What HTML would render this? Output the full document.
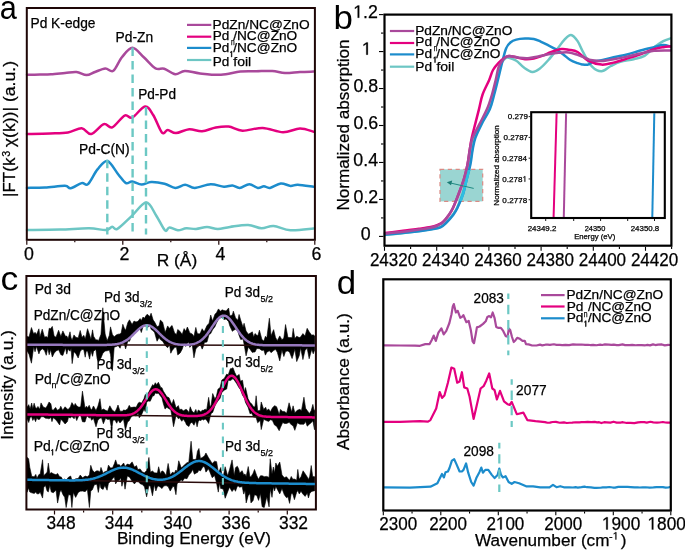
<!DOCTYPE html>
<html><head><meta charset="utf-8"><style>
html,body{margin:0;padding:0;background:#fff;}
svg{display:block;will-change:transform;}
text{font-family:"Liberation Sans", sans-serif;stroke:#000;stroke-width:0.25px;}
</style></head><body>
<svg width="685" height="551" viewBox="0 0 685 551">
<rect x="0" y="0" width="685" height="551" fill="#fff"/>
<path d="M27.00,230.00 C32.50,229.92 49.67,229.78 60.00,229.50 C70.33,229.22 81.35,228.22 89.00,228.30 C96.65,228.38 102.03,230.25 105.90,230.00 C109.77,229.75 110.28,226.98 112.20,226.80 C114.12,226.62 114.25,230.58 117.40,228.90 C120.55,227.22 126.30,221.08 131.10,216.70 C135.90,212.32 142.00,202.77 146.20,202.60 C150.40,202.43 153.17,211.07 156.30,215.70 C159.43,220.33 162.82,228.45 165.00,230.40 C167.18,232.35 167.25,227.42 169.40,227.40 C171.55,227.38 175.08,230.15 177.90,230.30 C180.72,230.45 183.28,228.52 186.30,228.30 C189.32,228.08 192.55,229.20 196.00,229.00 C199.45,228.80 203.37,227.10 207.00,227.10 C210.63,227.10 213.97,229.03 217.80,229.00 C221.63,228.97 224.95,227.58 230.00,226.90 C235.05,226.22 242.85,224.67 248.10,224.90 C253.35,225.13 257.25,228.13 261.50,228.30 C265.75,228.47 268.77,225.57 273.60,225.90 C278.43,226.23 283.85,229.85 290.50,230.30 C297.15,230.75 309.67,228.88 313.50,228.60" fill="none" stroke="#6dc6c4" stroke-width="2.5" stroke-linejoin="round" stroke-linecap="round"/>
<path d="M27.00,187.90 C30.00,187.83 38.68,187.85 45.00,187.50 C51.32,187.15 60.63,185.67 64.90,185.80 C69.17,185.93 67.80,188.75 70.60,188.30 C73.40,187.85 78.80,183.80 81.70,183.10 C84.60,182.40 85.37,186.38 88.00,184.10 C90.63,181.82 94.27,173.25 97.50,169.40 C100.73,165.55 103.90,160.12 107.40,161.00 C110.90,161.88 115.42,171.02 118.50,174.70 C121.58,178.38 123.62,181.98 125.90,183.10 C128.18,184.22 129.58,181.15 132.20,181.40 C134.82,181.65 138.45,184.50 141.60,184.60 C144.75,184.70 147.28,182.15 151.10,182.00 C154.92,181.85 160.45,182.72 164.50,183.70 C168.55,184.68 171.97,187.73 175.40,187.90 C178.83,188.07 181.87,184.70 185.10,184.70 C188.33,184.70 190.55,187.98 194.80,187.90 C199.05,187.82 205.75,184.40 210.60,184.20 C215.45,184.00 220.27,186.50 223.90,186.70 C227.53,186.90 229.77,185.20 232.40,185.40 C235.03,185.60 236.88,188.10 239.70,187.90 C242.52,187.70 246.28,184.20 249.30,184.20 C252.32,184.20 255.37,187.57 257.80,187.90 C260.23,188.23 261.87,186.20 263.90,186.20 C265.93,186.20 267.18,188.35 270.00,187.90 C272.82,187.45 277.38,183.83 280.80,183.50 C284.22,183.17 287.67,185.70 290.50,185.90 C293.33,186.10 293.97,184.57 297.80,184.70 C301.63,184.83 310.88,186.37 313.50,186.70" fill="none" stroke="#1c8ccc" stroke-width="2.5" stroke-linejoin="round" stroke-linecap="round"/>
<path d="M27.00,134.00 C30.83,133.92 43.17,133.75 50.00,133.50 C56.83,133.25 62.72,133.37 68.00,132.50 C73.28,131.63 77.83,128.05 81.70,128.30 C85.57,128.55 87.52,134.70 91.20,134.00 C94.88,133.30 100.30,125.22 103.80,124.10 C107.30,122.98 108.73,128.72 112.20,127.30 C115.67,125.88 121.27,117.22 124.60,115.60 C127.93,113.98 128.80,119.10 132.20,117.60 C135.60,116.10 141.50,107.03 145.00,106.60 C148.50,106.17 150.37,110.67 153.20,115.00 C156.03,119.33 159.57,130.10 162.00,132.60 C164.43,135.10 165.47,129.92 167.80,130.00 C170.13,130.08 172.43,133.23 176.00,133.10 C179.57,132.97 184.87,129.50 189.20,129.20 C193.53,128.90 197.57,131.58 202.00,131.30 C206.43,131.02 211.37,128.28 215.80,127.50 C220.23,126.72 224.15,126.07 228.60,126.60 C233.05,127.13 236.82,130.48 242.50,130.70 C248.18,130.92 255.95,127.65 262.70,127.90 C269.45,128.15 276.78,132.10 283.00,132.20 C289.22,132.30 294.92,128.58 300.00,128.50 C305.08,128.42 311.25,131.17 313.50,131.70" fill="none" stroke="#e4007f" stroke-width="2.5" stroke-linejoin="round" stroke-linecap="round"/>
<path d="M27.00,74.70 C29.17,74.68 36.00,74.67 40.00,74.60 C44.00,74.53 46.83,74.57 51.00,74.30 C55.17,74.03 60.75,73.38 65.00,73.00 C69.25,72.62 72.92,71.65 76.50,72.00 C80.08,72.35 83.42,75.10 86.50,75.10 C89.58,75.10 91.87,73.10 95.00,72.00 C98.13,70.90 102.25,68.70 105.30,68.50 C108.35,68.30 110.53,72.67 113.30,70.80 C116.07,68.93 118.72,61.13 121.90,57.30 C125.08,53.47 128.75,47.80 132.40,47.80 C136.05,47.80 139.95,53.88 143.80,57.30 C147.65,60.72 152.10,66.40 155.50,68.30 C158.90,70.20 160.90,67.70 164.20,68.70 C167.50,69.70 171.87,73.93 175.30,74.30 C178.73,74.67 180.68,71.05 184.80,70.90 C188.92,70.75 193.97,72.75 200.00,73.40 C206.03,74.05 214.28,75.10 221.00,74.80 C227.72,74.50 234.47,72.18 240.30,71.60 C246.13,71.02 250.67,71.40 256.00,71.30 C261.33,71.20 267.47,70.70 272.30,71.00 C277.13,71.30 280.38,72.93 285.00,73.10 C289.62,73.27 295.25,72.25 300.00,72.00 C304.75,71.75 311.25,71.67 313.50,71.60" fill="none" stroke="#a9499b" stroke-width="2.5" stroke-linejoin="round" stroke-linecap="round"/>
<line x1="107.30" y1="159.80" x2="107.30" y2="234.50" stroke="#6cc8c4" stroke-width="2.4" stroke-dasharray="8.5 5"/>
<line x1="132.60" y1="47.60" x2="132.60" y2="234.50" stroke="#6cc8c4" stroke-width="2.4" stroke-dasharray="8.5 5"/>
<line x1="146.00" y1="107.00" x2="146.00" y2="234.50" stroke="#6cc8c4" stroke-width="2.4" stroke-dasharray="8.5 5"/>
<rect x="26.80" y="8.00" width="288.10" height="231.80" fill="none" stroke="#1e0606" stroke-width="2"/>
<line x1="26.80" y1="240.80" x2="26.80" y2="244.80" stroke="#1e0606" stroke-width="1.2"/>
<line x1="122.80" y1="240.80" x2="122.80" y2="244.80" stroke="#1e0606" stroke-width="1.2"/>
<line x1="218.80" y1="240.80" x2="218.80" y2="244.80" stroke="#1e0606" stroke-width="1.2"/>
<line x1="314.80" y1="240.80" x2="314.80" y2="244.80" stroke="#1e0606" stroke-width="1.2"/>
<line x1="74.80" y1="240.80" x2="74.80" y2="242.30" stroke="#1e0606" stroke-width="1.2"/>
<line x1="170.80" y1="240.80" x2="170.80" y2="242.30" stroke="#1e0606" stroke-width="1.2"/>
<line x1="266.80" y1="240.80" x2="266.80" y2="242.30" stroke="#1e0606" stroke-width="1.2"/>
<line x1="187.00" y1="24.90" x2="211.30" y2="24.90" stroke="#a9499b" stroke-width="2.2"/>
<line x1="187.00" y1="36.70" x2="211.30" y2="36.70" stroke="#e4007f" stroke-width="2.2"/>
<line x1="187.00" y1="47.90" x2="211.30" y2="47.90" stroke="#1c8ccc" stroke-width="2.2"/>
<line x1="187.00" y1="60.00" x2="211.30" y2="60.00" stroke="#6dc6c4" stroke-width="2.2"/>
<text x="212.58" y="28.80" font-size="13.6" fill="#000" textLength="96.99" lengthAdjust="spacingAndGlyphs">PdZn/NC@ZnO</text>
<text x="212.69" y="40.20" font-size="13.6" fill="#000" textLength="16.57" lengthAdjust="spacingAndGlyphs">Pd</text>
<text x="231.07" y="45.00" font-size="8.5" fill="#000" textLength="3.66" lengthAdjust="spacingAndGlyphs" stroke="#000" stroke-width="0.3">n</text>
<text x="233.20" y="40.20" font-size="13.6" fill="#000" textLength="64.06" lengthAdjust="spacingAndGlyphs">/NC@ZnO</text>
<text x="212.69" y="51.50" font-size="13.6" fill="#000" textLength="16.57" lengthAdjust="spacingAndGlyphs">Pd</text>
<text x="229.98" y="57.00" font-size="8.5" fill="#000" textLength="3.09" lengthAdjust="spacingAndGlyphs" stroke="#000" stroke-width="0.3"> </text>
<path transform="translate(229.98,57.00) scale(0.00271,-0.00415)" d="M515 0V1237L197 1010V1180L530 1409H696V0Z" fill="#000" stroke="#000" stroke-width="0.6" vector-effect="non-scaling-stroke"/>
<text x="233.20" y="51.50" font-size="13.6" fill="#000" textLength="64.06" lengthAdjust="spacingAndGlyphs">/NC@ZnO</text>
<text x="212.69" y="66.00" font-size="13.6" fill="#000" textLength="16.57" lengthAdjust="spacingAndGlyphs">Pd</text>
<text x="233.30" y="66.00" font-size="13.6" fill="#000" textLength="17.93" lengthAdjust="spacingAndGlyphs">foil</text>
<text x="-0.29" y="18.70" font-size="33.0" fill="#000" textLength="17.10" lengthAdjust="spacingAndGlyphs" style="stroke-width:0">a</text>
<text x="30.47" y="28.40" font-size="14.3" fill="#000" textLength="65.03" lengthAdjust="spacingAndGlyphs">Pd K-edge</text>
<text x="115.57" y="41.80" font-size="14.3" fill="#000" textLength="37.60" lengthAdjust="spacingAndGlyphs">Pd-Zn</text>
<text x="138.18" y="99.00" font-size="14.3" fill="#000" textLength="37.88" lengthAdjust="spacingAndGlyphs">Pd-Pd</text>
<text x="78.96" y="153.60" font-size="14.3" fill="#000" textLength="50.77" lengthAdjust="spacingAndGlyphs">Pd-C(N)</text>
<text x="24.05" y="259.90" font-size="17.8" fill="#000">0</text>
<text x="119.45" y="259.90" font-size="17.8" fill="#000">2</text>
<text x="215.50" y="259.90" font-size="17.8" fill="#000">4</text>
<text x="311.50" y="259.90" font-size="17.8" fill="#000">6</text>
<text x="156.67" y="266.30" font-size="17.2" fill="#000" textLength="40.59" lengthAdjust="spacingAndGlyphs">R (Å)</text>
<text transform="translate(15.20,196.93) rotate(-90)" x="0" y="0" font-size="17" fill="#000">|FT(k</text>
<text transform="translate(10.00,156.70) rotate(-90)" x="0" y="0" font-size="11" fill="#000" textLength="5.87" lengthAdjust="spacingAndGlyphs">3</text>
<text transform="translate(15.20,147.18) rotate(-90)" x="0" y="0" font-size="17" fill="#000" textLength="86.26" lengthAdjust="spacingAndGlyphs">χ(k))| (a.u.)</text>
<rect x="440" y="169.3" width="42.7" height="32.1" fill="#9ad5d2" stroke="#d98a84" stroke-width="1.2" stroke-dasharray="4.2 3.6"/>
<path d="M385.00,235.00 C388.73,234.57 399.78,233.37 407.40,232.40 C415.02,231.43 425.18,230.12 430.70,229.20 C436.22,228.28 437.87,228.07 440.50,226.90 C443.13,225.73 444.50,224.18 446.50,222.20 C448.50,220.22 450.75,217.37 452.50,215.00 C454.25,212.63 455.32,211.58 457.00,208.00 C458.68,204.42 461.08,198.33 462.60,193.50 C464.12,188.67 464.90,183.83 466.10,179.00 C467.30,174.17 468.82,169.33 469.80,164.50 C470.78,159.67 471.33,154.40 472.00,150.00 C472.67,145.60 472.30,142.50 473.80,138.10 C475.30,133.70 478.53,128.43 481.00,123.60 C483.47,118.77 486.57,113.95 488.60,109.10 C490.63,104.25 491.83,99.35 493.20,94.50 C494.57,89.65 495.50,85.02 496.80,80.00 C498.10,74.98 499.58,68.02 501.00,64.40 C502.42,60.78 503.97,59.40 505.30,58.30 C506.63,57.20 507.17,57.38 509.00,57.80 C510.83,58.22 513.87,59.22 516.30,60.80 C518.73,62.38 520.93,65.43 523.60,67.30 C526.27,69.17 529.63,71.75 532.30,72.00 C534.97,72.25 536.92,70.80 539.60,68.80 C542.28,66.80 545.47,63.28 548.40,60.00 C551.33,56.72 554.52,52.50 557.20,49.10 C559.88,45.70 562.20,41.97 564.50,39.60 C566.80,37.23 568.82,34.65 571.00,34.90 C573.18,35.15 575.53,38.13 577.60,41.10 C579.67,44.07 580.98,48.45 583.40,52.70 C585.82,56.95 589.08,63.50 592.10,66.60 C595.12,69.70 598.37,71.40 601.50,71.30 C604.63,71.20 607.77,67.57 610.90,66.00 C614.03,64.43 616.50,63.03 620.30,61.90 C624.10,60.77 629.67,60.20 633.70,59.20 C637.73,58.20 640.92,58.02 644.50,55.90 C648.08,53.78 652.07,48.97 655.20,46.50 C658.33,44.03 660.75,42.45 663.30,41.10 C665.85,39.75 669.30,38.85 670.50,38.40" fill="none" stroke="#6dc6c4" stroke-width="2.5" stroke-linejoin="round" stroke-linecap="round"/>
<path d="M385.00,234.80 C388.73,234.43 399.78,233.50 407.40,232.60 C415.02,231.70 425.18,230.28 430.70,229.40 C436.22,228.52 437.87,228.45 440.50,227.30 C443.13,226.15 444.42,224.52 446.50,222.50 C448.58,220.48 451.18,217.62 453.00,215.20 C454.82,212.78 455.70,211.62 457.40,208.00 C459.10,204.38 461.63,198.33 463.20,193.50 C464.77,188.67 465.60,183.83 466.80,179.00 C468.00,174.17 469.43,169.33 470.40,164.50 C471.37,159.67 471.78,154.40 472.60,150.00 C473.42,145.60 473.75,142.50 475.30,138.10 C476.85,133.70 479.47,128.43 481.90,123.60 C484.33,118.77 487.85,113.95 489.90,109.10 C491.95,104.25 492.87,99.35 494.20,94.50 C495.53,89.65 496.53,85.50 497.90,80.00 C499.27,74.50 501.03,66.77 502.40,61.50 C503.77,56.23 504.77,51.57 506.10,48.40 C507.43,45.23 508.70,43.97 510.40,42.50 C512.10,41.03 513.87,40.25 516.30,39.60 C518.73,38.95 522.08,38.72 525.00,38.60 C527.92,38.48 531.12,38.37 533.80,38.90 C536.48,39.43 538.67,40.72 541.10,41.80 C543.53,42.88 545.97,44.18 548.40,45.40 C550.83,46.62 553.27,47.63 555.70,49.10 C558.13,50.57 560.57,52.38 563.00,54.20 C565.43,56.02 567.87,58.50 570.30,60.00 C572.73,61.50 575.65,62.47 577.60,63.20 C579.55,63.93 580.25,64.17 582.00,64.40 C583.75,64.63 586.20,65.12 588.10,64.60 C590.00,64.08 591.40,61.97 593.40,61.30 C595.40,60.63 596.73,61.28 600.10,60.60 C603.47,59.92 609.12,58.22 613.60,57.20 C618.08,56.18 622.53,55.62 627.00,54.50 C631.47,53.38 635.92,51.72 640.40,50.50 C644.88,49.28 650.08,48.10 653.90,47.20 C657.72,46.30 660.53,45.22 663.30,45.10 C666.07,44.98 669.30,46.27 670.50,46.50" fill="none" stroke="#1c8ccc" stroke-width="2.5" stroke-linejoin="round" stroke-linecap="round"/>
<path d="M385.00,233.00 C386.78,232.80 391.97,232.25 395.70,231.80 C399.43,231.35 403.52,230.80 407.40,230.30 C411.28,229.80 415.12,229.35 419.00,228.80 C422.88,228.25 427.58,227.67 430.70,227.00 C433.82,226.33 435.67,225.63 437.70,224.80 C439.73,223.97 441.07,223.60 442.90,222.00 C444.73,220.40 447.02,217.53 448.70,215.20 C450.38,212.87 451.32,211.62 453.00,208.00 C454.68,204.38 456.98,198.33 458.80,193.50 C460.62,188.67 462.45,183.83 463.90,179.00 C465.35,174.17 466.53,169.33 467.50,164.50 C468.47,159.67 469.00,154.40 469.70,150.00 C470.40,145.60 470.77,142.50 471.70,138.10 C472.63,133.70 474.08,128.43 475.30,123.60 C476.52,118.77 477.78,113.95 479.00,109.10 C480.22,104.25 480.90,99.35 482.60,94.50 C484.30,89.65 487.47,84.08 489.20,80.00 C490.93,75.92 491.40,72.88 493.00,70.00 C494.60,67.12 496.87,64.73 498.80,62.70 C500.73,60.67 502.90,58.92 504.60,57.80 C506.30,56.68 507.05,56.07 509.00,56.00 C510.95,55.93 513.63,56.85 516.30,57.40 C518.97,57.95 522.08,59.10 525.00,59.30 C527.92,59.50 530.87,59.20 533.80,58.60 C536.73,58.00 539.68,56.80 542.60,55.70 C545.52,54.60 548.15,53.10 551.30,52.00 C554.45,50.90 558.58,49.47 561.50,49.10 C564.42,48.73 566.12,49.32 568.80,49.80 C571.48,50.28 574.38,50.20 577.60,52.00 C580.82,53.80 584.12,58.50 588.10,60.60 C592.08,62.70 597.25,64.27 601.50,64.60 C605.75,64.93 609.35,63.60 613.60,62.60 C617.85,61.60 622.53,59.98 627.00,58.60 C631.47,57.22 635.92,55.87 640.40,54.30 C644.88,52.73 650.08,50.38 653.90,49.20 C657.72,48.02 660.53,47.65 663.30,47.20 C666.07,46.75 669.30,46.62 670.50,46.50" fill="none" stroke="#e4007f" stroke-width="2.5" stroke-linejoin="round" stroke-linecap="round"/>
<path d="M385.00,233.60 C386.78,233.43 391.97,233.00 395.70,232.60 C399.43,232.20 403.52,231.70 407.40,231.20 C411.28,230.70 415.12,230.17 419.00,229.60 C422.88,229.03 427.58,228.48 430.70,227.80 C433.82,227.12 435.67,226.40 437.70,225.50 C439.73,224.60 441.07,224.15 442.90,222.40 C444.73,220.65 447.02,217.43 448.70,215.00 C450.38,212.57 451.32,211.40 453.00,207.80 C454.68,204.20 456.98,198.20 458.80,193.40 C460.62,188.60 462.45,183.82 463.90,179.00 C465.35,174.18 466.53,169.33 467.50,164.50 C468.47,159.67 468.88,154.40 469.70,150.00 C470.52,145.60 470.73,142.50 472.40,138.10 C474.07,133.70 477.27,128.43 479.70,123.60 C482.13,118.77 484.95,113.95 487.00,109.10 C489.05,104.25 490.55,99.35 492.00,94.50 C493.45,89.65 494.62,84.50 495.70,80.00 C496.78,75.50 497.50,70.58 498.50,67.50 C499.50,64.42 500.43,63.28 501.70,61.50 C502.97,59.72 504.77,57.72 506.10,56.80 C507.43,55.88 507.52,55.83 509.70,56.00 C511.88,56.17 516.15,57.42 519.20,57.80 C522.25,58.18 524.83,58.53 528.00,58.30 C531.17,58.07 534.80,57.08 538.20,56.40 C541.60,55.72 545.00,54.82 548.40,54.20 C551.80,53.58 555.20,53.00 558.60,52.70 C562.00,52.40 565.63,52.03 568.80,52.40 C571.97,52.77 574.67,53.92 577.60,54.90 C580.53,55.88 584.22,57.47 586.40,58.30 C588.58,59.13 588.18,59.45 590.70,59.90 C593.22,60.35 597.68,61.12 601.50,61.00 C605.32,60.88 609.35,59.93 613.60,59.20 C617.85,58.47 622.53,57.55 627.00,56.60 C631.47,55.65 635.92,54.47 640.40,53.50 C644.88,52.53 648.88,51.30 653.90,50.80 C658.92,50.30 667.73,50.55 670.50,50.50" fill="none" stroke="#a9499b" stroke-width="2.5" stroke-linejoin="round" stroke-linecap="round"/>
<clipPath id="rc"><rect x="441" y="170" width="41" height="31"/></clipPath>
<path d="M385.00,234.80 C388.73,234.43 399.78,233.50 407.40,232.60 C415.02,231.70 425.18,230.28 430.70,229.40 C436.22,228.52 437.87,228.45 440.50,227.30 C443.13,226.15 444.42,224.52 446.50,222.50 C448.58,220.48 451.18,217.62 453.00,215.20 C454.82,212.78 455.70,211.62 457.40,208.00 C459.10,204.38 461.63,198.33 463.20,193.50 C464.77,188.67 465.60,183.83 466.80,179.00 C468.00,174.17 469.43,169.33 470.40,164.50 C471.37,159.67 471.78,154.40 472.60,150.00 C473.42,145.60 473.75,142.50 475.30,138.10 C476.85,133.70 479.47,128.43 481.90,123.60 C484.33,118.77 487.85,113.95 489.90,109.10 C491.95,104.25 492.87,99.35 494.20,94.50 C495.53,89.65 496.53,85.50 497.90,80.00 C499.27,74.50 501.03,66.77 502.40,61.50 C503.77,56.23 504.77,51.57 506.10,48.40 C507.43,45.23 508.70,43.97 510.40,42.50 C512.10,41.03 513.87,40.25 516.30,39.60 C518.73,38.95 522.08,38.72 525.00,38.60 C527.92,38.48 531.12,38.37 533.80,38.90 C536.48,39.43 538.67,40.72 541.10,41.80 C543.53,42.88 545.97,44.18 548.40,45.40 C550.83,46.62 553.27,47.63 555.70,49.10 C558.13,50.57 560.57,52.38 563.00,54.20 C565.43,56.02 567.87,58.50 570.30,60.00 C572.73,61.50 575.65,62.47 577.60,63.20 C579.55,63.93 580.25,64.17 582.00,64.40 C583.75,64.63 586.20,65.12 588.10,64.60 C590.00,64.08 591.40,61.97 593.40,61.30 C595.40,60.63 596.73,61.28 600.10,60.60 C603.47,59.92 609.12,58.22 613.60,57.20 C618.08,56.18 622.53,55.62 627.00,54.50 C631.47,53.38 635.92,51.72 640.40,50.50 C644.88,49.28 650.08,48.10 653.90,47.20 C657.72,46.30 660.53,45.22 663.30,45.10 C666.07,44.98 669.30,46.27 670.50,46.50" fill="none" stroke="#2cbfe2" stroke-width="2.5" stroke-linejoin="round" stroke-linecap="round" clip-path="url(#rc)"/>
<line x1="473.70" y1="188.40" x2="450.50" y2="183.00" stroke="#1f8a82" stroke-width="1.0"/>
<path d="M446.8,182.2 L452.2,180.6 L451.0,185.2 Z" fill="#1a7d76"/>
<rect x="384.50" y="14.60" width="286.90" height="231.10" fill="none" stroke="#000" stroke-width="2.2"/>
<line x1="379.00" y1="236.40" x2="383.50" y2="236.40" stroke="#000" stroke-width="1.1"/>
<line x1="381.00" y1="217.92" x2="383.50" y2="217.92" stroke="#000" stroke-width="1.1"/>
<line x1="379.00" y1="199.43" x2="383.50" y2="199.43" stroke="#000" stroke-width="1.1"/>
<line x1="381.00" y1="180.95" x2="383.50" y2="180.95" stroke="#000" stroke-width="1.1"/>
<line x1="379.00" y1="162.47" x2="383.50" y2="162.47" stroke="#000" stroke-width="1.1"/>
<line x1="381.00" y1="143.99" x2="383.50" y2="143.99" stroke="#000" stroke-width="1.1"/>
<line x1="379.00" y1="125.50" x2="383.50" y2="125.50" stroke="#000" stroke-width="1.1"/>
<line x1="381.00" y1="107.02" x2="383.50" y2="107.02" stroke="#000" stroke-width="1.1"/>
<line x1="379.00" y1="88.54" x2="383.50" y2="88.54" stroke="#000" stroke-width="1.1"/>
<line x1="381.00" y1="70.05" x2="383.50" y2="70.05" stroke="#000" stroke-width="1.1"/>
<line x1="379.00" y1="51.57" x2="383.50" y2="51.57" stroke="#000" stroke-width="1.1"/>
<line x1="381.00" y1="33.09" x2="383.50" y2="33.09" stroke="#000" stroke-width="1.1"/>
<line x1="379.00" y1="14.60" x2="383.50" y2="14.60" stroke="#000" stroke-width="1.1"/>
<line x1="384.50" y1="246.80" x2="384.50" y2="250.80" stroke="#000" stroke-width="1.1"/>
<line x1="410.60" y1="246.80" x2="410.60" y2="249.00" stroke="#000" stroke-width="1.1"/>
<line x1="436.70" y1="246.80" x2="436.70" y2="250.80" stroke="#000" stroke-width="1.1"/>
<line x1="462.80" y1="246.80" x2="462.80" y2="249.00" stroke="#000" stroke-width="1.1"/>
<line x1="488.90" y1="246.80" x2="488.90" y2="250.80" stroke="#000" stroke-width="1.1"/>
<line x1="515.00" y1="246.80" x2="515.00" y2="249.00" stroke="#000" stroke-width="1.1"/>
<line x1="541.10" y1="246.80" x2="541.10" y2="250.80" stroke="#000" stroke-width="1.1"/>
<line x1="567.20" y1="246.80" x2="567.20" y2="249.00" stroke="#000" stroke-width="1.1"/>
<line x1="593.30" y1="246.80" x2="593.30" y2="250.80" stroke="#000" stroke-width="1.1"/>
<line x1="619.40" y1="246.80" x2="619.40" y2="249.00" stroke="#000" stroke-width="1.1"/>
<line x1="645.50" y1="246.80" x2="645.50" y2="250.80" stroke="#000" stroke-width="1.1"/>
<line x1="671.60" y1="246.80" x2="671.60" y2="249.00" stroke="#000" stroke-width="1.1"/>
<text x="360.85" y="239.50" font-size="17.8" fill="#000">0</text>
<text x="353.54" y="202.53" font-size="17.8" fill="#000">0.2</text>
<text x="353.34" y="165.57" font-size="17.8" fill="#000">0.4</text>
<text x="353.48" y="128.60" font-size="17.8" fill="#000">0.6</text>
<text x="353.48" y="91.64" font-size="17.8" fill="#000">0.8</text>
<text x="361.80" y="54.67" font-size="17.8" fill="#000"> </text>
<path transform="translate(361.80,54.67) scale(0.00869,-0.00869)" d="M515 0V1237L197 1010V1180L530 1409H696V0Z" fill="#000" stroke="#000" stroke-width="0.25" vector-effect="non-scaling-stroke"/>
<text x="353.20" y="17.70" font-size="17.8" fill="#000"> .2</text>
<path transform="translate(353.20,17.70) scale(0.00869,-0.00869)" d="M515 0V1237L197 1010V1180L530 1409H696V0Z" fill="#000" stroke="#000" stroke-width="0.25" vector-effect="non-scaling-stroke"/>
<text x="369.90" y="266.00" font-size="17.8" fill="#000" textLength="47.41" lengthAdjust="spacingAndGlyphs">24320</text>
<text x="422.10" y="266.00" font-size="17.8" fill="#000" textLength="47.41" lengthAdjust="spacingAndGlyphs">24340</text>
<text x="474.30" y="266.00" font-size="17.8" fill="#000" textLength="47.41" lengthAdjust="spacingAndGlyphs">24360</text>
<text x="526.50" y="266.00" font-size="17.8" fill="#000" textLength="47.41" lengthAdjust="spacingAndGlyphs">24380</text>
<text x="578.70" y="266.00" font-size="17.8" fill="#000" textLength="47.41" lengthAdjust="spacingAndGlyphs">24400</text>
<text x="630.90" y="266.00" font-size="17.8" fill="#000" textLength="47.41" lengthAdjust="spacingAndGlyphs">24420</text>
<text x="333.57" y="28.50" font-size="34.0" fill="#000" textLength="19.40" lengthAdjust="spacingAndGlyphs" style="stroke-width:0">b</text>
<text transform="translate(349.00,210.50) rotate(-90)" x="0" y="0" font-size="17.2" fill="#000" textLength="171.11" lengthAdjust="spacingAndGlyphs">Normalized absorption</text>
<line x1="389.90" y1="31.00" x2="414.20" y2="31.00" stroke="#a9499b" stroke-width="2.2"/>
<line x1="389.90" y1="43.00" x2="414.20" y2="43.00" stroke="#e4007f" stroke-width="2.2"/>
<line x1="389.90" y1="54.40" x2="414.20" y2="54.40" stroke="#1c8ccc" stroke-width="2.2"/>
<line x1="389.90" y1="66.70" x2="414.20" y2="66.70" stroke="#6dc6c4" stroke-width="2.2"/>
<text x="415.17" y="34.50" font-size="13.6" fill="#000" textLength="97.19" lengthAdjust="spacingAndGlyphs">PdZn/NC@ZnO</text>
<text x="415.37" y="45.90" font-size="13.6" fill="#000" textLength="16.79" lengthAdjust="spacingAndGlyphs">Pd</text>
<text x="433.87" y="50.90" font-size="8.5" fill="#000" textLength="3.66" lengthAdjust="spacingAndGlyphs" stroke="#000" stroke-width="0.3">n</text>
<text x="436.30" y="45.90" font-size="13.6" fill="#000" textLength="64.06" lengthAdjust="spacingAndGlyphs">/NC@ZnO</text>
<text x="415.37" y="57.70" font-size="13.6" fill="#000" textLength="16.79" lengthAdjust="spacingAndGlyphs">Pd</text>
<text x="433.38" y="62.60" font-size="8.5" fill="#000" textLength="3.09" lengthAdjust="spacingAndGlyphs" stroke="#000" stroke-width="0.3"> </text>
<path transform="translate(433.38,62.60) scale(0.00271,-0.00415)" d="M515 0V1237L197 1010V1180L530 1409H696V0Z" fill="#000" stroke="#000" stroke-width="0.6" vector-effect="non-scaling-stroke"/>
<text x="436.30" y="57.70" font-size="13.6" fill="#000" textLength="64.06" lengthAdjust="spacingAndGlyphs">/NC@ZnO</text>
<text x="415.37" y="71.20" font-size="13.6" fill="#000" textLength="16.79" lengthAdjust="spacingAndGlyphs">Pd</text>
<text x="436.40" y="71.20" font-size="13.6" fill="#000" textLength="17.93" lengthAdjust="spacingAndGlyphs">foil</text>
<rect x="532.3" y="113.3" width="131.4" height="103.6" fill="#fff"/>
<line x1="556.60" y1="113.30" x2="553.60" y2="217.00" stroke="#e4007f" stroke-width="2.0"/>
<line x1="566.10" y1="113.30" x2="563.80" y2="217.00" stroke="#a9499b" stroke-width="2.0"/>
<line x1="654.30" y1="113.30" x2="652.30" y2="217.00" stroke="#1c8ccc" stroke-width="2.0"/>
<rect x="531.20" y="112.20" width="133.60" height="105.80" fill="none" stroke="#000" stroke-width="2.1"/>
<line x1="528.60" y1="116.60" x2="530.20" y2="116.60" stroke="#000" stroke-width="0.9"/>
<text x="507.89" y="119.40" font-size="7.9" fill="#000" textLength="20.09" lengthAdjust="spacingAndGlyphs">0.279</text>
<line x1="528.60" y1="137.38" x2="530.20" y2="137.38" stroke="#000" stroke-width="0.9"/>
<text x="503.49" y="140.18" font-size="7.9" fill="#000" textLength="24.61" lengthAdjust="spacingAndGlyphs">0.2787</text>
<line x1="528.60" y1="158.16" x2="530.20" y2="158.16" stroke="#000" stroke-width="0.9"/>
<text x="502.39" y="160.96" font-size="7.9" fill="#000" textLength="24.64" lengthAdjust="spacingAndGlyphs">0.2784</text>
<line x1="528.60" y1="178.94" x2="530.20" y2="178.94" stroke="#000" stroke-width="0.9"/>
<text x="502.39" y="181.74" font-size="7.9" fill="#000" textLength="24.60" lengthAdjust="spacingAndGlyphs">0.278 </text>
<path transform="translate(522.52,181.74) scale(0.00393,-0.00386)" d="M515 0V1237L197 1010V1180L530 1409H696V0Z" fill="#000" stroke="#000" stroke-width="0.25" vector-effect="non-scaling-stroke"/>
<line x1="528.60" y1="199.72" x2="530.20" y2="199.72" stroke="#000" stroke-width="0.9"/>
<text x="502.39" y="202.52" font-size="7.9" fill="#000" textLength="24.77" lengthAdjust="spacingAndGlyphs">0.2778</text>
<line x1="545.70" y1="219.00" x2="545.70" y2="221.00" stroke="#000" stroke-width="0.9"/>
<line x1="573.70" y1="219.00" x2="573.70" y2="221.00" stroke="#000" stroke-width="0.9"/>
<line x1="600.60" y1="219.00" x2="600.60" y2="221.00" stroke="#000" stroke-width="0.9"/>
<line x1="627.70" y1="219.00" x2="627.70" y2="221.00" stroke="#000" stroke-width="0.9"/>
<line x1="654.50" y1="219.00" x2="654.50" y2="221.00" stroke="#000" stroke-width="0.9"/>
<text x="527.70" y="231.00" font-size="7.6" fill="#000" textLength="28.60" lengthAdjust="spacingAndGlyphs">24349.2</text>
<text x="584.63" y="231.00" font-size="7.6" fill="#000" textLength="20.66" lengthAdjust="spacingAndGlyphs">24350</text>
<text x="630.71" y="231.00" font-size="7.6" fill="#000" textLength="28.55" lengthAdjust="spacingAndGlyphs">24350.8</text>
<text x="574.17" y="238.60" font-size="7.6" fill="#000" textLength="41.11" lengthAdjust="spacingAndGlyphs">Energy (eV)</text>
<text transform="translate(499.20,205.66) rotate(-90)" x="0" y="0" font-size="7.6" fill="#000" textLength="80.48" lengthAdjust="spacingAndGlyphs">Normalized absorption</text>
<path d="M27.00,336.56 L29.00,337.08 L31.44,327.57 L33.68,334.02 L35.04,332.30 L36.52,334.54 L38.92,328.82 L39.92,336.88 L42.24,329.17 L44.51,337.15 L46.26,336.59 L47.75,337.77 L49.19,328.27 L50.60,328.71 L52.31,326.40 L54.12,336.06 L56.00,337.30 L58.60,330.28 L60.87,336.47 L62.86,330.91 L65.44,336.30 L66.79,336.02 L68.04,338.70 L70.02,331.80 L71.09,338.00 L72.15,339.92 L73.98,334.91 L75.72,337.20 L78.19,337.90 L80.20,330.47 L82.02,337.39 L83.81,335.33 L85.21,339.06 L86.23,334.74 L87.54,328.70 L89.64,334.93 L90.96,339.33 L92.56,329.86 L93.56,336.19 L95.89,339.89 L97.14,339.79 L98.56,340.64 L100.97,334.32 L102.79,307.79 L105.14,333.96 L107.17,340.80 L109.35,335.34 L110.50,326.87 L112.37,334.38 L114.18,336.80 L116.57,334.85 L118.15,334.16 L120.11,334.00 L121.20,332.85 L122.82,324.29 L124.34,328.20 L125.58,330.37 L127.89,322.41 L129.49,319.81 L132.06,324.50 L134.00,321.08 L135.97,321.94 L137.99,321.34 L140.08,318.61 L141.32,320.60 L143.02,317.06 L144.40,318.30 L146.05,315.62 L147.20,314.26 L149.75,316.49 L151.10,313.19 L153.17,320.00 L154.65,322.07 L157.05,326.63 L159.11,325.82 L160.32,320.08 L162.67,322.22 L165.18,332.42 L167.63,325.93 L169.54,328.51 L170.77,326.62 L172.08,325.49 L174.57,332.88 L176.45,334.55 L177.74,329.52 L180.15,331.51 L182.18,334.59 L184.09,328.60 L185.69,331.33 L187.35,327.00 L188.74,330.16 L189.80,332.90 L192.20,333.94 L193.95,336.52 L195.82,327.43 L197.34,333.59 L199.54,333.99 L200.58,332.60 L202.18,328.73 L203.22,330.69 L204.42,331.24 L206.97,325.44 L209.02,323.43 L210.71,315.05 L212.54,321.10 L214.94,314.27 L216.49,312.63 L218.44,308.91 L220.53,311.28 L222.10,309.77 L223.93,310.55 L226.15,310.94 L228.61,308.07 L229.85,315.96 L232.34,314.98 L233.35,311.13 L235.56,317.88 L237.85,320.28 L239.07,314.48 L240.74,320.18 L243.05,327.27 L244.07,323.27 L246.07,331.05 L248.34,334.15 L250.16,333.19 L252.33,331.86 L253.69,337.23 L255.01,333.52 L256.59,335.06 L257.87,335.64 L259.43,330.17 L261.94,339.59 L263.86,341.10 L265.41,336.32 L266.84,337.83 L269.36,318.20 L271.07,335.80 L273.64,329.64 L275.47,337.30 L277.30,340.63 L279.74,335.91 L281.93,339.70 L283.85,338.00 L285.54,324.55 L287.94,337.55 L289.60,337.49 L292.08,337.65 L293.19,328.42 L294.87,338.56 L296.71,336.22 L299.23,337.62 L300.63,336.99 L302.92,333.60 L305.00,335.97 L307.15,328.35 L309.16,331.79 L311.71,335.22 L313.24,334.86 L314.80,336.06 L314.80,349.81 L313.24,353.82 L311.71,349.50 L309.16,358.75 L307.15,348.05 L305.00,350.58 L302.92,359.58 L300.63,347.75 L299.23,355.69 L296.71,361.59 L294.87,349.10 L293.19,354.97 L292.08,358.59 L289.60,352.35 L287.94,350.91 L285.54,351.42 L283.85,356.54 L281.93,349.98 L279.74,360.89 L277.30,352.30 L275.47,349.35 L273.64,350.52 L271.07,352.63 L269.36,350.73 L266.84,352.14 L265.41,355.13 L263.86,350.09 L261.94,350.55 L259.43,348.73 L257.87,348.53 L256.59,348.63 L255.01,352.00 L253.69,352.12 L252.33,352.47 L250.16,349.38 L248.34,346.99 L246.07,355.86 L244.07,344.25 L243.05,338.93 L240.74,339.51 L239.07,335.48 L237.85,330.95 L235.56,329.15 L233.35,330.52 L232.34,331.36 L229.85,326.12 L228.61,321.66 L226.15,318.99 L223.93,319.49 L222.10,317.29 L220.53,317.83 L218.44,319.39 L216.49,323.03 L214.94,326.69 L212.54,329.86 L210.71,333.60 L209.02,334.62 L206.97,342.02 L204.42,342.45 L203.22,346.84 L202.18,349.14 L200.58,344.99 L199.54,345.53 L197.34,347.10 L195.82,348.96 L193.95,357.86 L192.20,344.36 L189.80,347.36 L188.74,342.37 L187.35,343.31 L185.69,346.41 L184.09,343.48 L182.18,349.22 L180.15,352.96 L177.74,354.91 L176.45,346.95 L174.57,347.60 L172.08,350.64 L170.77,353.24 L169.54,344.81 L167.63,347.67 L165.18,345.41 L162.67,341.18 L160.32,339.58 L159.11,337.54 L157.05,341.22 L154.65,332.72 L153.17,330.82 L151.10,329.36 L149.75,325.15 L147.20,328.09 L146.05,326.02 L144.40,325.81 L143.02,326.60 L141.32,332.54 L140.08,328.87 L137.99,330.09 L135.97,331.40 L134.00,332.96 L132.06,334.87 L129.49,341.30 L127.89,340.99 L125.58,348.95 L124.34,343.66 L122.82,343.47 L121.20,344.81 L120.11,348.22 L118.15,345.46 L116.57,346.40 L114.18,347.20 L112.37,370.67 L110.50,354.53 L109.35,350.12 L107.17,350.77 L105.14,351.02 L102.79,353.42 L100.97,357.99 L98.56,362.12 L97.14,358.69 L95.89,349.42 L93.56,351.16 L92.56,356.32 L90.96,350.96 L89.64,359.11 L87.54,351.05 L86.23,351.29 L85.21,357.20 L83.81,349.70 L82.02,349.34 L80.20,351.48 L78.19,358.01 L75.72,353.39 L73.98,351.70 L72.15,363.62 L71.09,348.38 L70.02,351.26 L68.04,349.26 L66.79,354.16 L65.44,347.70 L62.86,355.38 L60.87,354.71 L58.60,349.82 L56.00,350.91 L54.12,353.35 L52.31,357.03 L50.60,349.62 L49.19,354.73 L47.75,348.04 L46.26,355.30 L44.51,350.61 L42.24,348.71 L39.92,351.00 L38.92,353.88 L36.52,346.47 L35.04,351.81 L33.68,346.84 L31.44,363.20 L29.00,354.20 L27.00,350.76 Z" fill="#000" stroke="#000" stroke-width="0.6" stroke-linejoin="miter"/>
<path d="M27.00,407.09 L28.72,404.64 L30.18,408.79 L31.67,403.00 L32.79,408.66 L34.14,403.18 L35.57,407.97 L36.85,408.14 L37.95,406.42 L39.70,409.32 L41.04,402.91 L43.22,406.89 L45.70,408.03 L47.14,406.01 L49.05,401.97 L50.86,403.79 L51.98,409.63 L53.18,410.21 L55.60,407.39 L57.36,410.29 L59.64,408.98 L60.75,406.21 L62.70,410.33 L65.09,406.80 L67.47,409.20 L68.48,409.24 L70.32,406.88 L71.91,402.61 L74.12,406.11 L75.24,403.44 L76.66,405.80 L78.97,407.33 L80.72,406.60 L82.44,391.15 L84.99,407.95 L86.50,406.17 L87.57,407.88 L89.20,405.32 L90.44,408.43 L91.57,410.01 L93.48,405.96 L96.01,410.60 L97.94,406.12 L99.97,398.70 L101.49,410.15 L103.40,409.00 L105.61,410.33 L107.55,411.17 L109.83,405.80 L111.71,409.18 L113.03,410.74 L114.96,412.10 L116.75,408.35 L118.01,405.01 L120.00,411.14 L122.31,411.21 L123.53,410.08 L125.40,410.33 L127.57,408.90 L129.22,405.33 L130.65,407.50 L132.25,407.36 L134.11,407.07 L136.21,407.28 L138.11,403.22 L139.28,402.28 L141.59,403.10 L144.06,398.55 L145.23,394.50 L146.63,395.02 L147.90,393.82 L150.26,389.15 L152.72,384.61 L153.79,385.80 L155.32,382.72 L156.63,384.64 L158.38,382.24 L160.86,387.71 L161.97,387.70 L163.24,390.99 L165.02,393.75 L166.86,396.78 L169.05,397.78 L170.75,401.97 L171.98,404.22 L173.54,399.48 L176.12,407.95 L178.32,405.60 L179.50,409.43 L181.80,409.25 L183.29,410.90 L185.54,409.54 L186.56,409.43 L188.96,412.45 L190.22,406.77 L191.95,411.11 L194.01,412.94 L195.82,409.44 L197.08,413.16 L198.31,409.99 L199.76,410.96 L200.84,412.00 L202.19,410.19 L203.40,410.37 L205.14,409.18 L206.71,409.74 L208.65,397.36 L210.10,407.04 L211.16,404.92 L212.69,393.54 L214.89,398.92 L216.30,396.58 L217.95,389.18 L220.16,387.39 L221.81,380.11 L224.23,378.49 L226.70,374.05 L228.19,374.88 L230.37,368.73 L231.78,368.48 L233.00,367.72 L234.70,372.34 L236.66,376.35 L239.16,374.38 L240.40,381.19 L242.53,380.31 L244.30,391.95 L245.51,387.58 L248.06,398.68 L250.18,402.74 L251.38,403.56 L253.83,407.12 L255.00,406.64 L256.14,395.77 L257.67,410.87 L260.18,410.48 L261.23,401.96 L263.70,409.39 L265.68,407.23 L266.78,410.47 L268.69,409.07 L270.43,411.69 L272.33,408.02 L274.51,405.65 L276.59,406.75 L279.19,414.44 L280.44,409.39 L282.74,411.44 L284.40,411.39 L286.65,413.14 L289.08,402.81 L291.67,411.99 L293.09,405.83 L294.82,412.70 L297.33,410.33 L299.84,409.35 L301.44,410.77 L303.94,397.19 L305.59,408.24 L307.19,410.47 L309.40,413.53 L311.15,410.85 L312.87,404.41 L314.49,412.40 L314.80,409.75 L314.80,422.39 L314.49,429.74 L312.87,420.84 L311.15,422.81 L309.40,424.15 L307.19,426.20 L305.59,421.60 L303.94,424.18 L301.44,424.24 L299.84,424.18 L297.33,422.84 L294.82,430.37 L293.09,425.79 L291.67,425.08 L289.08,422.36 L286.65,423.49 L284.40,423.53 L282.74,422.42 L280.44,427.52 L279.19,430.69 L276.59,426.35 L274.51,425.00 L272.33,420.29 L270.43,419.82 L268.69,421.41 L266.78,420.82 L265.68,420.33 L263.70,419.24 L261.23,429.57 L260.18,420.38 L257.67,422.83 L256.14,417.62 L255.00,416.99 L253.83,417.31 L251.38,412.85 L250.18,414.06 L248.06,407.30 L245.51,402.52 L244.30,397.92 L242.53,395.15 L240.40,389.50 L239.16,388.01 L236.66,383.62 L234.70,380.73 L233.00,378.60 L231.78,379.57 L230.37,380.62 L228.19,380.21 L226.70,388.97 L224.23,390.19 L221.81,392.54 L220.16,398.14 L217.95,400.96 L216.30,403.37 L214.89,405.99 L212.69,412.38 L211.16,413.46 L210.10,417.10 L208.65,423.46 L206.71,420.23 L205.14,418.99 L203.40,420.08 L202.19,419.24 L200.84,420.64 L199.76,419.91 L198.31,421.40 L197.08,426.83 L195.82,420.82 L194.01,425.24 L191.95,422.14 L190.22,423.48 L188.96,426.55 L186.56,424.90 L185.54,422.50 L183.29,419.08 L181.80,421.28 L179.50,417.75 L178.32,418.72 L176.12,414.96 L173.54,426.66 L171.98,416.33 L170.75,409.75 L169.05,408.84 L166.86,407.31 L165.02,409.09 L163.24,403.23 L161.97,397.90 L160.86,396.55 L158.38,393.16 L156.63,393.52 L155.32,392.91 L153.79,395.95 L152.72,395.75 L150.26,401.19 L147.90,400.96 L146.63,402.61 L145.23,411.58 L144.06,409.05 L141.59,414.63 L139.28,417.79 L138.11,413.32 L136.21,415.93 L134.11,415.36 L132.25,415.97 L130.65,417.77 L129.22,420.73 L127.57,421.94 L125.40,430.22 L123.53,419.20 L122.31,420.16 L120.00,422.94 L118.01,419.96 L116.75,423.25 L114.96,419.94 L113.03,420.22 L111.71,429.52 L109.83,419.26 L107.55,419.41 L105.61,418.28 L103.40,423.81 L101.49,417.85 L99.97,418.28 L97.94,420.01 L96.01,426.81 L93.48,418.34 L91.57,420.22 L90.44,417.17 L89.20,418.11 L87.57,416.23 L86.50,416.94 L84.99,422.00 L82.44,421.74 L80.72,415.39 L78.97,415.38 L76.66,420.57 L75.24,415.82 L74.12,418.80 L71.91,416.60 L70.32,417.93 L68.48,417.19 L67.47,421.53 L65.09,423.99 L62.70,420.91 L60.75,419.27 L59.64,424.94 L57.36,421.76 L55.60,419.62 L53.18,417.63 L51.98,421.64 L50.86,417.40 L49.05,418.87 L47.14,418.37 L45.70,418.34 L43.22,416.69 L41.04,416.80 L39.70,419.28 L37.95,419.42 L36.85,417.77 L35.57,421.66 L34.14,417.96 L32.79,420.45 L31.67,416.85 L30.18,417.14 L28.72,422.51 L27.00,418.84 Z" fill="#000" stroke="#000" stroke-width="0.6" stroke-linejoin="miter"/>
<path d="M27.00,457.43 L28.62,458.66 L29.74,467.25 L31.79,476.38 L34.22,476.79 L35.78,474.40 L36.95,478.27 L38.94,474.53 L40.15,474.30 L42.57,459.70 L43.77,475.82 L45.35,473.99 L47.14,472.27 L48.33,463.15 L49.84,473.75 L51.28,472.61 L53.42,473.79 L56.00,474.75 L57.58,473.39 L59.84,477.00 L61.07,476.87 L63.00,480.13 L64.69,478.97 L66.15,480.36 L68.46,477.22 L70.66,476.02 L71.87,480.06 L73.34,480.58 L75.65,478.82 L78.24,478.43 L80.22,475.07 L82.61,477.71 L85.19,476.05 L87.37,476.78 L89.40,475.05 L90.76,465.33 L92.35,470.08 L94.35,472.35 L96.83,470.83 L98.31,470.90 L99.95,472.01 L100.98,467.45 L103.10,473.14 L104.81,471.79 L107.08,471.10 L108.46,465.14 L110.51,468.09 L112.59,467.73 L114.33,463.81 L115.63,459.90 L117.28,464.64 L119.47,464.73 L120.77,466.62 L121.92,465.03 L123.66,462.99 L125.03,466.57 L127.31,464.04 L129.62,464.81 L132.13,461.89 L134.48,467.08 L136.51,465.61 L137.81,469.59 L140.13,468.92 L142.29,471.97 L144.49,472.76 L146.61,470.52 L148.93,457.46 L150.41,472.14 L152.49,471.06 L154.31,472.70 L155.85,472.89 L157.38,473.06 L158.63,466.76 L160.41,473.73 L162.00,470.87 L163.68,471.80 L166.04,475.50 L168.13,463.46 L170.22,474.89 L172.79,471.93 L174.14,473.44 L175.95,469.98 L177.10,471.90 L178.73,460.77 L181.25,467.80 L182.39,466.89 L184.60,464.84 L186.99,462.68 L188.80,462.16 L191.08,441.22 L192.78,459.49 L194.35,459.57 L196.16,459.20 L197.47,451.17 L198.96,448.51 L200.45,458.52 L203.03,457.00 L204.57,455.69 L205.93,452.97 L208.44,457.60 L209.66,459.40 L212.20,463.47 L214.57,461.19 L216.60,461.64 L218.29,471.94 L219.60,470.15 L220.77,467.47 L221.94,475.62 L223.50,475.16 L225.15,466.74 L227.63,475.82 L229.49,469.81 L232.07,459.91 L234.22,475.61 L235.46,467.72 L237.34,466.23 L238.60,468.67 L239.66,472.94 L242.17,470.66 L243.71,474.74 L245.02,474.05 L246.18,476.59 L248.22,466.55 L249.96,477.04 L250.98,476.64 L253.12,473.27 L254.53,469.48 L256.78,475.74 L258.56,479.35 L260.42,475.85 L262.15,475.72 L264.23,476.63 L266.82,476.40 L269.09,477.48 L270.20,458.80 L272.00,474.02 L273.37,467.01 L274.54,472.92 L275.85,462.99 L277.24,466.25 L279.78,462.09 L281.97,474.89 L284.34,477.75 L286.45,476.75 L287.96,478.59 L289.59,480.35 L291.29,476.45 L292.76,479.13 L294.43,479.09 L296.67,480.16 L297.79,469.44 L299.23,479.24 L301.00,476.70 L303.08,470.82 L305.11,473.71 L307.27,477.09 L308.44,479.53 L309.73,476.27 L311.23,465.52 L312.68,476.57 L314.80,476.81 L314.80,490.67 L312.68,491.14 L311.23,491.67 L309.73,493.62 L308.44,497.97 L307.27,493.04 L305.11,496.39 L303.08,494.27 L301.00,491.28 L299.23,493.98 L297.79,490.57 L296.67,492.24 L294.43,499.67 L292.76,493.85 L291.29,493.41 L289.59,503.38 L287.96,496.82 L286.45,497.66 L284.34,494.80 L281.97,488.59 L279.78,493.95 L277.24,489.16 L275.85,486.46 L274.54,490.91 L273.37,486.70 L272.00,497.35 L270.20,488.80 L269.09,506.91 L266.82,496.68 L264.23,507.50 L262.15,506.69 L260.42,493.61 L258.56,500.38 L256.78,495.49 L254.53,494.68 L253.12,500.53 L250.98,502.90 L249.96,493.57 L248.22,495.63 L246.18,502.94 L245.02,490.20 L243.71,494.10 L242.17,486.57 L239.66,487.19 L238.60,486.15 L237.34,486.15 L235.46,491.30 L234.22,488.84 L232.07,491.52 L229.49,487.16 L227.63,491.90 L225.15,498.25 L223.50,489.77 L221.94,488.48 L220.77,488.64 L219.60,483.05 L218.29,492.10 L216.60,483.13 L214.57,475.53 L212.20,477.71 L209.66,471.44 L208.44,468.84 L205.93,472.14 L204.57,466.94 L203.03,466.60 L200.45,470.92 L198.96,470.11 L197.47,472.52 L196.16,473.00 L194.35,474.13 L192.78,469.42 L191.08,472.55 L188.80,475.11 L186.99,478.71 L184.60,478.16 L182.39,481.24 L181.25,479.64 L178.73,482.24 L177.10,483.68 L175.95,494.70 L174.14,486.42 L172.79,486.59 L170.22,491.06 L168.13,486.59 L166.04,485.59 L163.68,486.09 L162.00,488.61 L160.41,487.16 L158.63,486.11 L157.38,486.64 L155.85,490.98 L154.31,484.43 L152.49,495.77 L150.41,486.31 L148.93,485.52 L146.61,496.85 L144.49,486.85 L142.29,484.49 L140.13,483.68 L137.81,480.71 L136.51,481.15 L134.48,483.96 L132.13,481.16 L129.62,477.22 L127.31,475.96 L125.03,489.18 L123.66,479.14 L121.92,486.26 L120.77,477.68 L119.47,479.98 L117.28,480.97 L115.63,483.92 L114.33,476.68 L112.59,478.78 L110.51,481.57 L108.46,483.22 L107.08,490.23 L104.81,485.54 L103.10,489.41 L100.98,488.14 L99.95,483.44 L98.31,492.43 L96.83,484.32 L94.35,484.73 L92.35,489.75 L90.76,491.08 L89.40,507.50 L87.37,489.24 L85.19,491.65 L82.61,491.05 L80.22,491.13 L78.24,492.44 L75.65,497.38 L73.34,492.50 L71.87,507.50 L70.66,494.99 L68.46,494.81 L66.15,507.50 L64.69,497.24 L63.00,494.78 L61.07,490.05 L59.84,492.13 L57.58,503.06 L56.00,490.01 L53.42,492.74 L51.28,491.97 L49.84,485.27 L48.33,491.88 L47.14,491.09 L45.35,485.23 L43.77,487.41 L42.57,498.05 L40.15,492.09 L38.94,493.73 L36.95,493.86 L35.78,491.96 L34.22,493.44 L31.79,492.85 L29.74,491.94 L28.62,487.92 L27.00,492.30 Z" fill="#000" stroke="#000" stroke-width="0.6" stroke-linejoin="miter"/>
<line x1="27.50" y1="344.80" x2="314.50" y2="345.40" stroke="#2a0c0c" stroke-width="1.5"/>
<line x1="27.50" y1="414.40" x2="314.50" y2="417.41" stroke="#2a0c0c" stroke-width="1.5"/>
<line x1="27.50" y1="479.80" x2="314.50" y2="484.01" stroke="#2a0c0c" stroke-width="1.5"/>
<path d="M27.20,344.80 L28.10,344.80 L29.00,344.80 L29.90,344.81 L30.80,344.81 L31.70,344.81 L32.60,344.81 L33.50,344.81 L34.40,344.82 L35.30,344.82 L36.20,344.82 L37.10,344.82 L38.00,344.82 L38.90,344.82 L39.80,344.83 L40.70,344.83 L41.60,344.83 L42.50,344.83 L43.40,344.83 L44.30,344.84 L45.20,344.84 L46.10,344.84 L47.00,344.84 L47.90,344.84 L48.80,344.85 L49.70,344.85 L50.60,344.85 L51.50,344.85 L52.40,344.85 L53.30,344.85 L54.20,344.86 L55.10,344.86 L56.00,344.86 L56.90,344.86 L57.80,344.86 L58.70,344.87 L59.60,344.87 L60.50,344.87 L61.40,344.87 L62.30,344.87 L63.20,344.88 L64.10,344.88 L65.00,344.88 L65.90,344.88 L66.80,344.88 L67.70,344.89 L68.60,344.89 L69.50,344.89 L70.40,344.89 L71.30,344.89 L72.20,344.89 L73.10,344.90 L74.00,344.90 L74.90,344.90 L75.80,344.90 L76.70,344.90 L77.60,344.91 L78.50,344.91 L79.40,344.91 L80.30,344.91 L81.20,344.91 L82.10,344.92 L83.00,344.92 L83.90,344.92 L84.80,344.92 L85.70,344.92 L86.60,344.92 L87.50,344.93 L88.40,344.93 L89.30,344.93 L90.20,344.93 L91.10,344.93 L92.00,344.94 L92.90,344.94 L93.80,344.94 L94.70,344.94 L95.60,344.94 L96.50,344.94 L97.40,344.94 L98.30,344.94 L99.20,344.94 L100.10,344.94 L101.00,344.94 L101.90,344.94 L102.80,344.93 L103.70,344.93 L104.60,344.92 L105.50,344.91 L106.40,344.89 L107.30,344.87 L108.20,344.85 L109.10,344.82 L110.00,344.78 L110.90,344.74 L111.80,344.68 L112.70,344.61 L113.60,344.53 L114.50,344.43 L115.40,344.31 L116.30,344.17 L117.20,344.01 L118.10,343.82 L119.00,343.60 L119.90,343.34 L120.80,343.05 L121.70,342.72 L122.60,342.35 L123.50,341.93 L124.40,341.47 L125.30,340.96 L126.20,340.40 L127.10,339.79 L128.00,339.14 L128.90,338.43 L129.80,337.68 L130.70,336.90 L131.60,336.07 L132.50,335.22 L133.40,334.34 L134.30,333.45 L135.20,332.56 L136.10,331.67 L137.00,330.79 L137.90,329.94 L138.80,329.13 L139.70,328.36 L140.60,327.66 L141.50,327.03 L142.40,326.47 L143.30,326.00 L144.20,325.63 L145.10,325.37 L146.00,325.20 L146.90,325.15 L147.80,325.21 L148.70,325.37 L149.60,325.65 L150.50,326.02 L151.40,326.49 L152.30,327.05 L153.20,327.69 L154.10,328.39 L155.00,329.16 L155.90,329.98 L156.80,330.83 L157.70,331.71 L158.60,332.61 L159.50,333.51 L160.40,334.40 L161.30,335.28 L162.20,336.14 L163.10,336.96 L164.00,337.76 L164.90,338.51 L165.80,339.21 L166.70,339.87 L167.60,340.49 L168.50,341.05 L169.40,341.56 L170.30,342.03 L171.20,342.45 L172.10,342.83 L173.00,343.16 L173.90,343.45 L174.80,343.71 L175.70,343.93 L176.60,344.12 L177.50,344.29 L178.40,344.42 L179.30,344.54 L180.20,344.63 L181.10,344.71 L182.00,344.77 L182.90,344.81 L183.80,344.83 L184.70,344.84 L185.60,344.84 L186.50,344.82 L187.40,344.79 L188.30,344.73 L189.20,344.66 L190.10,344.57 L191.00,344.45 L191.90,344.31 L192.80,344.14 L193.70,343.93 L194.60,343.68 L195.50,343.40 L196.40,343.06 L197.30,342.67 L198.20,342.23 L199.10,341.72 L200.00,341.15 L200.90,340.52 L201.80,339.81 L202.70,339.02 L203.60,338.16 L204.50,337.23 L205.40,336.22 L206.30,335.14 L207.20,333.99 L208.10,332.78 L209.00,331.52 L209.90,330.22 L210.80,328.89 L211.70,327.53 L212.60,326.18 L213.50,324.84 L214.40,323.52 L215.30,322.26 L216.20,321.06 L217.10,319.94 L218.00,318.91 L218.90,318.01 L219.80,317.23 L220.70,316.59 L221.60,316.11 L222.50,315.78 L223.40,315.63 L224.30,315.64 L225.20,315.82 L226.10,316.16 L227.00,316.67 L227.90,317.33 L228.80,318.12 L229.70,319.05 L230.60,320.08 L231.50,321.22 L232.40,322.43 L233.30,323.71 L234.20,325.03 L235.10,326.38 L236.00,327.74 L236.90,329.09 L237.80,330.42 L238.70,331.73 L239.60,332.98 L240.50,334.19 L241.40,335.33 L242.30,336.41 L243.20,337.41 L244.10,338.35 L245.00,339.20 L245.90,339.98 L246.80,340.69 L247.70,341.32 L248.60,341.89 L249.50,342.39 L250.40,342.83 L251.30,343.22 L252.20,343.55 L253.10,343.84 L254.00,344.09 L254.90,344.30 L255.80,344.48 L256.70,344.63 L257.60,344.76 L258.50,344.86 L259.40,344.95 L260.30,345.02 L261.20,345.08 L262.10,345.12 L263.00,345.16 L263.90,345.19 L264.80,345.22 L265.70,345.24 L266.60,345.25 L267.50,345.27 L268.40,345.28 L269.30,345.29 L270.20,345.29 L271.10,345.30 L272.00,345.30 L272.90,345.31 L273.80,345.31 L274.70,345.31 L275.60,345.32 L276.50,345.32 L277.40,345.32 L278.30,345.32 L279.20,345.33 L280.10,345.33 L281.00,345.33 L281.90,345.33 L282.80,345.33 L283.70,345.34 L284.60,345.34 L285.50,345.34 L286.40,345.34 L287.30,345.34 L288.20,345.35 L289.10,345.35 L290.00,345.35 L290.90,345.35 L291.80,345.35 L292.70,345.36 L293.60,345.36 L294.50,345.36 L295.40,345.36 L296.30,345.36 L297.20,345.36 L298.10,345.37 L299.00,345.37 L299.90,345.37 L300.80,345.37 L301.70,345.37 L302.60,345.38 L303.50,345.38 L304.40,345.38 L305.30,345.38 L306.20,345.38 L307.10,345.39 L308.00,345.39 L308.90,345.39 L309.80,345.39 L310.70,345.39 L311.60,345.39 L312.50,345.40 L313.40,345.40 L314.30,345.40" fill="none" stroke="#9678be" stroke-width="2.5" stroke-linejoin="round" stroke-linecap="round"/>
<path d="M27.20,414.40 L28.10,414.41 L29.00,414.42 L29.90,414.43 L30.80,414.44 L31.70,414.45 L32.60,414.46 L33.50,414.47 L34.40,414.48 L35.30,414.49 L36.20,414.50 L37.10,414.51 L38.00,414.51 L38.90,414.52 L39.80,414.53 L40.70,414.54 L41.60,414.55 L42.50,414.56 L43.40,414.57 L44.30,414.58 L45.20,414.59 L46.10,414.60 L47.00,414.61 L47.90,414.62 L48.80,414.63 L49.70,414.64 L50.60,414.65 L51.50,414.66 L52.40,414.67 L53.30,414.67 L54.20,414.68 L55.10,414.69 L56.00,414.70 L56.90,414.71 L57.80,414.72 L58.70,414.73 L59.60,414.74 L60.50,414.75 L61.40,414.76 L62.30,414.77 L63.20,414.78 L64.10,414.79 L65.00,414.80 L65.90,414.81 L66.80,414.82 L67.70,414.83 L68.60,414.83 L69.50,414.84 L70.40,414.85 L71.30,414.86 L72.20,414.87 L73.10,414.88 L74.00,414.89 L74.90,414.90 L75.80,414.91 L76.70,414.92 L77.60,414.93 L78.50,414.94 L79.40,414.95 L80.30,414.96 L81.20,414.97 L82.10,414.98 L83.00,414.99 L83.90,414.99 L84.80,415.00 L85.70,415.01 L86.60,415.02 L87.50,415.03 L88.40,415.04 L89.30,415.05 L90.20,415.06 L91.10,415.07 L92.00,415.08 L92.90,415.09 L93.80,415.10 L94.70,415.11 L95.60,415.12 L96.50,415.13 L97.40,415.14 L98.30,415.15 L99.20,415.15 L100.10,415.16 L101.00,415.17 L101.90,415.18 L102.80,415.19 L103.70,415.20 L104.60,415.21 L105.50,415.22 L106.40,415.23 L107.30,415.24 L108.20,415.25 L109.10,415.26 L110.00,415.27 L110.90,415.28 L111.80,415.29 L112.70,415.29 L113.60,415.30 L114.50,415.31 L115.40,415.32 L116.30,415.32 L117.20,415.33 L118.10,415.33 L119.00,415.34 L119.90,415.33 L120.80,415.33 L121.70,415.32 L122.60,415.30 L123.50,415.28 L124.40,415.24 L125.30,415.20 L126.20,415.13 L127.10,415.05 L128.00,414.94 L128.90,414.80 L129.80,414.63 L130.70,414.42 L131.60,414.16 L132.50,413.84 L133.40,413.46 L134.30,413.01 L135.20,412.49 L136.10,411.88 L137.00,411.18 L137.90,410.39 L138.80,409.50 L139.70,408.52 L140.60,407.43 L141.50,406.26 L142.40,405.00 L143.30,403.67 L144.20,402.29 L145.10,400.86 L146.00,399.41 L146.90,397.96 L147.80,396.54 L148.70,395.18 L149.60,393.90 L150.50,392.73 L151.40,391.69 L152.30,390.82 L153.20,390.12 L154.10,389.62 L155.00,389.32 L155.90,389.25 L156.80,389.39 L157.70,389.75 L158.60,390.31 L159.50,391.07 L160.40,392.01 L161.30,393.09 L162.20,394.31 L163.10,395.63 L164.00,397.03 L164.90,398.47 L165.80,399.94 L166.70,401.41 L167.60,402.85 L168.50,404.24 L169.40,405.57 L170.30,406.83 L171.20,408.00 L172.10,409.08 L173.00,410.07 L173.90,410.95 L174.80,411.74 L175.70,412.44 L176.60,413.05 L177.50,413.57 L178.40,414.03 L179.30,414.41 L180.20,414.73 L181.10,415.00 L182.00,415.22 L182.90,415.40 L183.80,415.55 L184.70,415.67 L185.60,415.77 L186.50,415.84 L187.40,415.90 L188.30,415.95 L189.20,415.98 L190.10,416.01 L191.00,416.03 L191.90,416.04 L192.80,416.04 L193.70,416.03 L194.60,416.01 L195.50,415.98 L196.40,415.94 L197.30,415.89 L198.20,415.81 L199.10,415.72 L200.00,415.60 L200.90,415.44 L201.80,415.25 L202.70,415.02 L203.60,414.74 L204.50,414.40 L205.40,413.99 L206.30,413.51 L207.20,412.95 L208.10,412.30 L209.00,411.55 L209.90,410.69 L210.80,409.72 L211.70,408.62 L212.60,407.41 L213.50,406.07 L214.40,404.61 L215.30,403.03 L216.20,401.34 L217.10,399.55 L218.00,397.66 L218.90,395.71 L219.80,393.71 L220.70,391.68 L221.60,389.65 L222.50,387.65 L223.40,385.71 L224.30,383.86 L225.20,382.13 L226.10,380.56 L227.00,379.17 L227.90,377.98 L228.80,377.03 L229.70,376.33 L230.60,375.90 L231.50,375.74 L232.40,375.86 L233.30,376.25 L234.20,376.91 L235.10,377.83 L236.00,378.98 L236.90,380.34 L237.80,381.90 L238.70,383.61 L239.60,385.46 L240.50,387.40 L241.40,389.41 L242.30,391.45 L243.20,393.50 L244.10,395.53 L245.00,397.51 L245.90,399.43 L246.80,401.27 L247.70,403.00 L248.60,404.63 L249.50,406.13 L250.40,407.52 L251.30,408.78 L252.20,409.91 L253.10,410.93 L254.00,411.83 L254.90,412.63 L255.80,413.32 L256.70,413.92 L257.60,414.44 L258.50,414.88 L259.40,415.25 L260.30,415.56 L261.20,415.83 L262.10,416.04 L263.00,416.22 L263.90,416.37 L264.80,416.49 L265.70,416.59 L266.60,416.67 L267.50,416.73 L268.40,416.79 L269.30,416.83 L270.20,416.86 L271.10,416.89 L272.00,416.92 L272.90,416.94 L273.80,416.96 L274.70,416.97 L275.60,416.99 L276.50,417.00 L277.40,417.01 L278.30,417.02 L279.20,417.03 L280.10,417.04 L281.00,417.05 L281.90,417.06 L282.80,417.07 L283.70,417.08 L284.60,417.09 L285.50,417.10 L286.40,417.11 L287.30,417.12 L288.20,417.13 L289.10,417.14 L290.00,417.15 L290.90,417.16 L291.80,417.17 L292.70,417.18 L293.60,417.19 L294.50,417.20 L295.40,417.21 L296.30,417.21 L297.20,417.22 L298.10,417.23 L299.00,417.24 L299.90,417.25 L300.80,417.26 L301.70,417.27 L302.60,417.28 L303.50,417.29 L304.40,417.30 L305.30,417.31 L306.20,417.32 L307.10,417.33 L308.00,417.34 L308.90,417.35 L309.80,417.36 L310.70,417.37 L311.60,417.37 L312.50,417.38 L313.40,417.39 L314.30,417.40" fill="none" stroke="#e4007f" stroke-width="2.5" stroke-linejoin="round" stroke-linecap="round"/>
<path d="M27.20,479.80 L28.10,479.82 L29.00,479.83 L29.90,479.84 L30.80,479.86 L31.70,479.87 L32.60,479.88 L33.50,479.90 L34.40,479.91 L35.30,479.92 L36.20,479.93 L37.10,479.95 L38.00,479.96 L38.90,479.97 L39.80,479.99 L40.70,480.00 L41.60,480.01 L42.50,480.03 L43.40,480.04 L44.30,480.05 L45.20,480.07 L46.10,480.08 L47.00,480.09 L47.90,480.11 L48.80,480.12 L49.70,480.13 L50.60,480.15 L51.50,480.16 L52.40,480.17 L53.30,480.18 L54.20,480.20 L55.10,480.21 L56.00,480.22 L56.90,480.24 L57.80,480.25 L58.70,480.26 L59.60,480.27 L60.50,480.29 L61.40,480.30 L62.30,480.31 L63.20,480.32 L64.10,480.33 L65.00,480.34 L65.90,480.35 L66.80,480.36 L67.70,480.37 L68.60,480.37 L69.50,480.38 L70.40,480.38 L71.30,480.39 L72.20,480.39 L73.10,480.39 L74.00,480.38 L74.90,480.38 L75.80,480.37 L76.70,480.35 L77.60,480.33 L78.50,480.31 L79.40,480.28 L80.30,480.25 L81.20,480.20 L82.10,480.16 L83.00,480.10 L83.90,480.03 L84.80,479.95 L85.70,479.87 L86.60,479.77 L87.50,479.65 L88.40,479.53 L89.30,479.38 L90.20,479.23 L91.10,479.05 L92.00,478.86 L92.90,478.66 L93.80,478.43 L94.70,478.18 L95.60,477.92 L96.50,477.63 L97.40,477.33 L98.30,477.01 L99.20,476.67 L100.10,476.31 L101.00,475.93 L101.90,475.54 L102.80,475.13 L103.70,474.71 L104.60,474.28 L105.50,473.83 L106.40,473.39 L107.30,472.93 L108.20,472.48 L109.10,472.03 L110.00,471.58 L110.90,471.14 L111.80,470.71 L112.70,470.30 L113.60,469.91 L114.50,469.54 L115.40,469.19 L116.30,468.87 L117.20,468.58 L118.10,468.32 L119.00,468.10 L119.90,467.92 L120.80,467.78 L121.70,467.68 L122.60,467.63 L123.50,467.61 L124.40,467.64 L125.30,467.72 L126.20,467.83 L127.10,467.99 L128.00,468.19 L128.90,468.42 L129.80,468.70 L130.70,469.01 L131.60,469.35 L132.50,469.71 L133.40,470.11 L134.30,470.52 L135.20,470.95 L136.10,471.40 L137.00,471.86 L137.90,472.33 L138.80,472.81 L139.70,473.28 L140.60,473.76 L141.50,474.23 L142.40,474.69 L143.30,475.15 L144.20,475.59 L145.10,476.01 L146.00,476.42 L146.90,476.81 L147.80,477.18 L148.70,477.53 L149.60,477.86 L150.50,478.16 L151.40,478.44 L152.30,478.69 L153.20,478.92 L154.10,479.12 L155.00,479.29 L155.90,479.44 L156.80,479.55 L157.70,479.64 L158.60,479.70 L159.50,479.73 L160.40,479.73 L161.30,479.70 L162.20,479.64 L163.10,479.55 L164.00,479.43 L164.90,479.27 L165.80,479.08 L166.70,478.86 L167.60,478.61 L168.50,478.32 L169.40,477.99 L170.30,477.63 L171.20,477.24 L172.10,476.81 L173.00,476.35 L173.90,475.85 L174.80,475.33 L175.70,474.77 L176.60,474.18 L177.50,473.57 L178.40,472.93 L179.30,472.27 L180.20,471.59 L181.10,470.89 L182.00,470.19 L182.90,469.47 L183.80,468.76 L184.70,468.05 L185.60,467.34 L186.50,466.65 L187.40,465.97 L188.30,465.32 L189.20,464.69 L190.10,464.10 L191.00,463.55 L191.90,463.04 L192.80,462.58 L193.70,462.18 L194.60,461.83 L195.50,461.53 L196.40,461.31 L197.30,461.14 L198.20,461.05 L199.10,461.02 L200.00,461.06 L200.90,461.17 L201.80,461.34 L202.70,461.58 L203.60,461.88 L204.50,462.25 L205.40,462.67 L206.30,463.15 L207.20,463.67 L208.10,464.24 L209.00,464.85 L209.90,465.49 L210.80,466.17 L211.70,466.87 L212.60,467.58 L213.50,468.31 L214.40,469.05 L215.30,469.80 L216.20,470.54 L217.10,471.28 L218.00,472.01 L218.90,472.72 L219.80,473.42 L220.70,474.10 L221.60,474.75 L222.50,475.38 L223.40,475.99 L224.30,476.56 L225.20,477.11 L226.10,477.62 L227.00,478.11 L227.90,478.56 L228.80,478.99 L229.70,479.38 L230.60,479.75 L231.50,480.09 L232.40,480.40 L233.30,480.68 L234.20,480.94 L235.10,481.18 L236.00,481.40 L236.90,481.59 L237.80,481.77 L238.70,481.92 L239.60,482.07 L240.50,482.19 L241.40,482.31 L242.30,482.41 L243.20,482.50 L244.10,482.58 L245.00,482.65 L245.90,482.72 L246.80,482.78 L247.70,482.83 L248.60,482.87 L249.50,482.91 L250.40,482.95 L251.30,482.98 L252.20,483.01 L253.10,483.04 L254.00,483.07 L254.90,483.09 L255.80,483.11 L256.70,483.13 L257.60,483.15 L258.50,483.17 L259.40,483.18 L260.30,483.20 L261.20,483.22 L262.10,483.23 L263.00,483.25 L263.90,483.26 L264.80,483.28 L265.70,483.29 L266.60,483.30 L267.50,483.32 L268.40,483.33 L269.30,483.34 L270.20,483.36 L271.10,483.37 L272.00,483.38 L272.90,483.40 L273.80,483.41 L274.70,483.42 L275.60,483.44 L276.50,483.45 L277.40,483.46 L278.30,483.48 L279.20,483.49 L280.10,483.50 L281.00,483.52 L281.90,483.53 L282.80,483.54 L283.70,483.56 L284.60,483.57 L285.50,483.58 L286.40,483.60 L287.30,483.61 L288.20,483.62 L289.10,483.64 L290.00,483.65 L290.90,483.66 L291.80,483.68 L292.70,483.69 L293.60,483.70 L294.50,483.71 L295.40,483.73 L296.30,483.74 L297.20,483.75 L298.10,483.77 L299.00,483.78 L299.90,483.79 L300.80,483.81 L301.70,483.82 L302.60,483.83 L303.50,483.85 L304.40,483.86 L305.30,483.87 L306.20,483.89 L307.10,483.90 L308.00,483.91 L308.90,483.93 L309.80,483.94 L310.70,483.95 L311.60,483.96 L312.50,483.98 L313.40,483.99 L314.30,484.00" fill="none" stroke="#1c8ccc" stroke-width="2.5" stroke-linejoin="round" stroke-linecap="round"/>
<line x1="146.80" y1="324.50" x2="146.80" y2="493.30" stroke="#6cc8c4" stroke-width="2.1" stroke-dasharray="6.8 7.0" stroke-dashoffset="0.9"/>
<line x1="222.90" y1="317.30" x2="222.90" y2="495.00" stroke="#6cc8c4" stroke-width="2.1" stroke-dasharray="6.8 7.0" stroke-dashoffset="5.0"/>
<rect x="26.40" y="276.00" width="289.50" height="233.50" fill="none" stroke="#1e0606" stroke-width="2"/>
<line x1="54.50" y1="510.50" x2="54.50" y2="514.50" stroke="#1e0606" stroke-width="1.2"/>
<line x1="83.60" y1="510.50" x2="83.60" y2="512.50" stroke="#1e0606" stroke-width="1.2"/>
<line x1="112.70" y1="510.50" x2="112.70" y2="514.50" stroke="#1e0606" stroke-width="1.2"/>
<line x1="141.80" y1="510.50" x2="141.80" y2="512.50" stroke="#1e0606" stroke-width="1.2"/>
<line x1="170.90" y1="510.50" x2="170.90" y2="514.50" stroke="#1e0606" stroke-width="1.2"/>
<line x1="200.00" y1="510.50" x2="200.00" y2="512.50" stroke="#1e0606" stroke-width="1.2"/>
<line x1="229.10" y1="510.50" x2="229.10" y2="514.50" stroke="#1e0606" stroke-width="1.2"/>
<line x1="258.20" y1="510.50" x2="258.20" y2="512.50" stroke="#1e0606" stroke-width="1.2"/>
<line x1="287.30" y1="510.50" x2="287.30" y2="514.50" stroke="#1e0606" stroke-width="1.2"/>
<text x="46.54" y="529.20" font-size="17.8" fill="#000" textLength="29.04" lengthAdjust="spacingAndGlyphs">348</text>
<text x="104.85" y="529.20" font-size="17.8" fill="#000" textLength="28.75" lengthAdjust="spacingAndGlyphs">344</text>
<text x="163.34" y="529.20" font-size="17.8" fill="#000" textLength="28.93" lengthAdjust="spacingAndGlyphs">340</text>
<text x="221.54" y="529.20" font-size="17.8" fill="#000" textLength="29.04" lengthAdjust="spacingAndGlyphs">336</text>
<text x="278.94" y="529.20" font-size="17.8" fill="#000" textLength="29.15" lengthAdjust="spacingAndGlyphs">332</text>
<text x="116.89" y="544.30" font-size="17.3" fill="#000" textLength="154.17" lengthAdjust="spacingAndGlyphs">Binding Energy (eV)</text>
<text transform="translate(12.70,439.69) rotate(-90)" x="0" y="0" font-size="17.3" fill="#000">Intensity (a.u.)</text>
<text x="0.60" y="290.20" font-size="33.0" fill="#000" textLength="17.82" lengthAdjust="spacingAndGlyphs" style="stroke-width:0">c</text>
<text x="34.76" y="293.90" font-size="14.3" fill="#000" textLength="36.21" lengthAdjust="spacingAndGlyphs">Pd 3d</text>
<text x="33.68" y="320.40" font-size="14.3" fill="#000" textLength="86.47" lengthAdjust="spacingAndGlyphs">PdZn/C@ZnO</text>
<text x="34.65" y="384.30" font-size="14.3" fill="#000" textLength="17.13" lengthAdjust="spacingAndGlyphs">Pd</text>
<text x="51.61" y="388.40" font-size="8.5" fill="#000" textLength="4.96" lengthAdjust="spacingAndGlyphs" stroke="#000" stroke-width="0.3">n</text>
<text x="56.30" y="384.30" font-size="14.3" fill="#000" textLength="54.36" lengthAdjust="spacingAndGlyphs">/C@ZnO</text>
<text x="33.75" y="451.10" font-size="14.3" fill="#000" textLength="17.13" lengthAdjust="spacingAndGlyphs">Pd</text>
<text x="50.98" y="455.20" font-size="8.5" fill="#000" textLength="3.09" lengthAdjust="spacingAndGlyphs" stroke="#000" stroke-width="0.3"> </text>
<path transform="translate(50.98,455.20) scale(0.00271,-0.00415)" d="M515 0V1237L197 1010V1180L530 1409H696V0Z" fill="#000" stroke="#000" stroke-width="0.6" vector-effect="non-scaling-stroke"/>
<text x="55.40" y="451.10" font-size="14.3" fill="#000" textLength="54.36" lengthAdjust="spacingAndGlyphs">/C@ZnO</text>
<text x="104.09" y="301.90" font-size="14.3" fill="#000" textLength="35.37" lengthAdjust="spacingAndGlyphs">Pd 3d</text>
<text x="139.86" y="306.90" font-size="8.4" fill="#000" textLength="12.49" lengthAdjust="spacingAndGlyphs">3/2</text>
<text x="224.69" y="297.00" font-size="14.3" fill="#000" textLength="35.37" lengthAdjust="spacingAndGlyphs">Pd 3d</text>
<text x="260.44" y="302.00" font-size="8.4" fill="#000" textLength="12.51" lengthAdjust="spacingAndGlyphs">5/2</text>
<text x="96.39" y="368.70" font-size="14.3" fill="#000" textLength="35.37" lengthAdjust="spacingAndGlyphs">Pd 3d</text>
<text x="132.16" y="373.70" font-size="8.4" fill="#000" textLength="12.49" lengthAdjust="spacingAndGlyphs">3/2</text>
<text x="224.89" y="367.10" font-size="14.3" fill="#000" textLength="35.37" lengthAdjust="spacingAndGlyphs">Pd 3d</text>
<text x="260.64" y="372.10" font-size="8.4" fill="#000" textLength="12.51" lengthAdjust="spacingAndGlyphs">5/2</text>
<text x="96.39" y="437.90" font-size="14.3" fill="#000" textLength="35.37" lengthAdjust="spacingAndGlyphs">Pd 3d</text>
<text x="132.16" y="442.90" font-size="8.4" fill="#000" textLength="12.49" lengthAdjust="spacingAndGlyphs">3/2</text>
<text x="224.89" y="450.70" font-size="14.3" fill="#000" textLength="35.37" lengthAdjust="spacingAndGlyphs">Pd 3d</text>
<text x="260.64" y="455.70" font-size="8.4" fill="#000" textLength="12.51" lengthAdjust="spacingAndGlyphs">5/2</text>
<path d="M384.50,345.30 L400.00,345.50 L415.00,345.60 L420.00,345.80 L425.30,344.10 L429.60,344.10 L431.90,339.70 L433.70,335.60 L435.80,340.90 L438.40,332.70 L441.40,328.30 L443.70,334.40 L446.30,330.90 L449.40,323.00 L451.50,314.30 L452.80,306.40 L453.80,304.10 L455.90,312.50 L457.70,310.80 L460.30,317.80 L462.00,316.90 L463.40,315.10 L465.20,319.50 L466.40,322.20 L468.70,320.90 L470.80,330.00 L472.60,341.40 L474.00,343.20 L475.70,334.40 L476.90,327.40 L479.60,326.50 L483.10,323.90 L485.70,321.30 L487.40,316.90 L489.20,316.00 L491.00,317.40 L492.70,312.50 L494.50,317.80 L496.20,326.90 L498.50,327.90 L500.90,327.90 L503.20,330.90 L505.80,336.20 L507.60,336.70 L508.80,328.60 L510.20,330.00 L512.00,337.00 L513.70,342.00 L515.50,340.20 L517.20,337.90 L519.90,338.80 L522.50,340.90 L524.80,340.90 L526.00,344.10 L528.60,344.40 L532.10,345.50 L536.50,345.50 L540.00,344.60 L542.26,345.38 L545.46,344.72 L547.76,344.72 L549.90,344.88 L553.79,344.25 L556.53,344.87 L559.86,344.85 L562.13,345.06 L565.47,344.83 L569.11,345.14 L573.07,344.37 L576.18,344.67 L578.88,344.62 L581.35,344.48 L585.09,344.91 L588.02,344.82 L590.19,345.03 L593.05,344.79 L596.40,345.27 L600.20,344.62 L602.26,344.99 L604.96,344.45 L608.77,344.61 L611.45,344.94 L613.77,344.64 L616.69,345.19 L618.80,345.04 L622.49,344.43 L625.10,345.11 L627.28,345.02 L629.33,345.17 L632.26,344.89 L635.74,345.27 L637.87,345.11 L641.66,345.07 L645.27,345.28 L647.45,344.84 L650.04,345.34 L653.03,344.35 L655.46,345.06 L657.98,344.55 L661.86,344.46 L664.73,345.36 L668.22,344.79 L670.00,344.99" fill="none" stroke="#a9499b" stroke-width="2.2" stroke-linejoin="round" stroke-linecap="round"/>
<path d="M384.50,421.90 L400.00,421.90 L419.90,421.20 L428.00,421.60 L430.40,420.10 L436.20,408.40 L439.70,392.00 L442.00,397.90 L444.40,395.50 L447.90,382.70 L451.40,367.50 L454.20,368.70 L457.20,382.70 L459.60,381.50 L461.90,372.20 L464.20,387.40 L467.30,388.50 L469.60,396.70 L473.60,418.90 L477.10,403.70 L480.60,388.50 L483.60,386.20 L486.40,380.40 L489.20,373.40 L492.30,388.50 L494.60,390.20 L496.90,399.50 L500.00,390.90 L504.00,401.40 L507.50,404.20 L509.80,404.90 L511.70,401.90 L516.80,414.20 L523.30,412.60 L527.30,420.10 L535.50,421.20 L545.00,422.10 L547.50,422.77 L549.88,422.65 L552.58,421.98 L555.92,421.94 L559.71,422.75 L561.72,422.57 L563.93,422.45 L566.77,423.02 L569.70,422.73 L572.22,422.61 L575.56,422.28 L579.41,422.36 L581.54,422.19 L584.83,422.15 L587.65,421.84 L591.24,422.18 L594.79,421.93 L597.06,422.31 L599.10,422.21 L601.37,423.04 L604.21,422.20 L606.55,422.35 L610.38,422.61 L613.58,421.72 L616.65,422.59 L620.47,422.55 L622.91,422.21 L626.80,422.97 L630.40,422.81 L634.30,423.19 L638.09,422.40 L640.99,422.08 L644.22,422.09 L646.81,422.57 L650.44,421.74 L653.25,422.33 L657.01,422.63 L659.49,422.48 L662.88,422.02 L665.30,422.48 L667.46,422.65 L670.00,422.67" fill="none" stroke="#e4007f" stroke-width="2.2" stroke-linejoin="round" stroke-linecap="round"/>
<path d="M384.50,487.40 L410.00,487.60 L430.40,486.70 L437.40,483.20 L439.70,478.50 L442.00,473.90 L443.90,477.40 L445.50,472.20 L447.90,471.50 L449.50,468.00 L451.90,460.60 L454.20,459.20 L456.10,463.40 L459.60,471.50 L461.90,471.50 L463.50,469.90 L466.10,463.40 L468.20,472.70 L471.20,482.00 L473.60,485.60 L476.60,477.40 L479.40,472.20 L481.30,467.60 L482.90,472.70 L485.30,469.90 L488.30,469.90 L491.60,474.60 L494.60,478.10 L497.60,475.00 L499.30,468.50 L500.90,474.60 L502.80,477.40 L505.60,476.20 L508.60,482.00 L511.70,483.90 L514.50,482.00 L519.10,483.20 L526.10,486.30 L533.10,486.30 L540.20,487.40 L549.50,487.40 L553.00,484.80 L556.50,487.20 L560.23,486.22 L563.85,487.32 L566.01,487.43 L569.23,487.31 L573.05,487.50 L575.63,487.18 L577.79,487.55 L581.43,487.13 L584.46,486.67 L586.96,487.22 L590.92,487.45 L594.39,487.84 L596.45,487.82 L600.39,487.74 L602.83,487.42 L606.28,487.38 L609.37,487.02 L612.85,487.53 L615.00,487.61 L618.32,486.86 L621.78,486.79 L624.03,486.97 L627.53,486.94 L630.63,487.04 L634.52,487.38 L637.58,487.40 L639.90,487.49 L642.78,487.29 L645.62,487.26 L649.55,487.53 L653.40,487.42 L656.60,487.17 L660.18,487.09 L662.83,487.08 L665.68,487.55 L668.28,487.50 L670.00,486.97" fill="none" stroke="#1c8ccc" stroke-width="2.2" stroke-linejoin="round" stroke-linecap="round"/>
<line x1="508.30" y1="293.40" x2="508.30" y2="355.30" stroke="#6cc8c4" stroke-width="2.2" stroke-dasharray="9.4 5.8" stroke-dashoffset="3.8"/>
<line x1="511.70" y1="379.20" x2="511.70" y2="427.00" stroke="#6cc8c4" stroke-width="2.2" stroke-dasharray="9.4 5.8" stroke-dashoffset="3.8"/>
<line x1="499.30" y1="442.80" x2="499.30" y2="491.90" stroke="#6cc8c4" stroke-width="2.2" stroke-dasharray="9.4 5.8" stroke-dashoffset="3.8"/>
<rect x="383.30" y="279.30" width="287.50" height="231.20" fill="none" stroke="#000" stroke-width="2.2"/>
<line x1="383.30" y1="511.60" x2="383.30" y2="515.20" stroke="#000" stroke-width="1.1"/>
<line x1="412.05" y1="511.60" x2="412.05" y2="513.60" stroke="#000" stroke-width="1.1"/>
<line x1="440.80" y1="511.60" x2="440.80" y2="515.20" stroke="#000" stroke-width="1.1"/>
<line x1="469.55" y1="511.60" x2="469.55" y2="513.60" stroke="#000" stroke-width="1.1"/>
<line x1="498.30" y1="511.60" x2="498.30" y2="515.20" stroke="#000" stroke-width="1.1"/>
<line x1="527.05" y1="511.60" x2="527.05" y2="513.60" stroke="#000" stroke-width="1.1"/>
<line x1="555.80" y1="511.60" x2="555.80" y2="515.20" stroke="#000" stroke-width="1.1"/>
<line x1="584.55" y1="511.60" x2="584.55" y2="513.60" stroke="#000" stroke-width="1.1"/>
<line x1="613.30" y1="511.60" x2="613.30" y2="515.20" stroke="#000" stroke-width="1.1"/>
<line x1="642.05" y1="511.60" x2="642.05" y2="513.60" stroke="#000" stroke-width="1.1"/>
<line x1="670.80" y1="511.60" x2="670.80" y2="515.20" stroke="#000" stroke-width="1.1"/>
<text x="379.25" y="529.50" font-size="17.8" fill="#000" textLength="37.91" lengthAdjust="spacingAndGlyphs">2300</text>
<text x="429.15" y="529.50" font-size="17.8" fill="#000" textLength="37.91" lengthAdjust="spacingAndGlyphs">2200</text>
<text x="486.45" y="529.50" font-size="17.8" fill="#000" textLength="37.91" lengthAdjust="spacingAndGlyphs">2 00</text>
<path transform="translate(495.93,529.50) scale(0.00832,-0.00869)" d="M515 0V1237L197 1010V1180L530 1409H696V0Z" fill="#000" stroke="#000" stroke-width="0.25" vector-effect="non-scaling-stroke"/>
<text x="544.35" y="529.50" font-size="17.8" fill="#000" textLength="37.91" lengthAdjust="spacingAndGlyphs">2000</text>
<text x="601.89" y="529.50" font-size="17.8" fill="#000" textLength="38.38" lengthAdjust="spacingAndGlyphs"> 900</text>
<path transform="translate(601.89,529.50) scale(0.00842,-0.00869)" d="M515 0V1237L197 1010V1180L530 1409H696V0Z" fill="#000" stroke="#000" stroke-width="0.25" vector-effect="non-scaling-stroke"/>
<text x="647.49" y="529.50" font-size="17.8" fill="#000" textLength="38.38" lengthAdjust="spacingAndGlyphs"> 800</text>
<path transform="translate(647.49,529.50) scale(0.00842,-0.00869)" d="M515 0V1237L197 1010V1180L530 1409H696V0Z" fill="#000" stroke="#000" stroke-width="0.25" vector-effect="non-scaling-stroke"/>
<text x="474.93" y="546.00" font-size="17.2" fill="#000" textLength="134.49" lengthAdjust="spacingAndGlyphs">Wavenumber (cm</text>
<text x="609.13" y="539.50" font-size="10.5" fill="#000" textLength="9.58" lengthAdjust="spacingAndGlyphs">- </text>
<path transform="translate(612.71,539.50) scale(0.00526,-0.00513)" d="M515 0V1237L197 1010V1180L530 1409H696V0Z" fill="#000" stroke="#000" stroke-width="0.25" vector-effect="non-scaling-stroke"/>
<text x="620.72" y="546.00" font-size="17.2" fill="#000">)</text>
<text transform="translate(349.00,449.93) rotate(-90)" x="0" y="0" font-size="17.2" fill="#000">Absorbance (a.u.)</text>
<text x="336.73" y="293.80" font-size="34.0" fill="#000" textLength="19.40" lengthAdjust="spacingAndGlyphs" style="stroke-width:0">d</text>
<text x="473.62" y="302.90" font-size="14.3" fill="#000" textLength="30.18" lengthAdjust="spacingAndGlyphs">2083</text>
<text x="516.11" y="394.80" font-size="14.3" fill="#000" textLength="30.58" lengthAdjust="spacingAndGlyphs">2077</text>
<text x="463.51" y="455.90" font-size="14.3" fill="#000" textLength="30.50" lengthAdjust="spacingAndGlyphs">2098</text>
<line x1="541.00" y1="295.10" x2="564.60" y2="295.10" stroke="#a9499b" stroke-width="2.2"/>
<line x1="541.00" y1="306.50" x2="564.60" y2="306.50" stroke="#e4007f" stroke-width="2.2"/>
<line x1="541.00" y1="318.30" x2="564.60" y2="318.30" stroke="#1c8ccc" stroke-width="2.2"/>
<text x="566.48" y="298.70" font-size="13.6" fill="#000" textLength="96.68" lengthAdjust="spacingAndGlyphs">PdZn/NC@ZnO</text>
<text x="566.67" y="310.50" font-size="13.6" fill="#000" textLength="16.79" lengthAdjust="spacingAndGlyphs">Pd</text>
<text x="583.85" y="316.80" font-size="8.5" fill="#000" textLength="3.79" lengthAdjust="spacingAndGlyphs" stroke="#000" stroke-width="0.3">n</text>
<text x="587.90" y="310.50" font-size="13.6" fill="#000">/NC@ZnO</text>
<text x="566.67" y="322.30" font-size="13.6" fill="#000" textLength="16.79" lengthAdjust="spacingAndGlyphs">Pd</text>
<text x="584.18" y="326.60" font-size="8.5" fill="#000" textLength="3.09" lengthAdjust="spacingAndGlyphs" stroke="#000" stroke-width="0.3"> </text>
<path transform="translate(584.18,326.60) scale(0.00271,-0.00415)" d="M515 0V1237L197 1010V1180L530 1409H696V0Z" fill="#000" stroke="#000" stroke-width="0.6" vector-effect="non-scaling-stroke"/>
<text x="587.90" y="322.30" font-size="13.6" fill="#000">/NC@ZnO</text>
</svg>
</body></html>
